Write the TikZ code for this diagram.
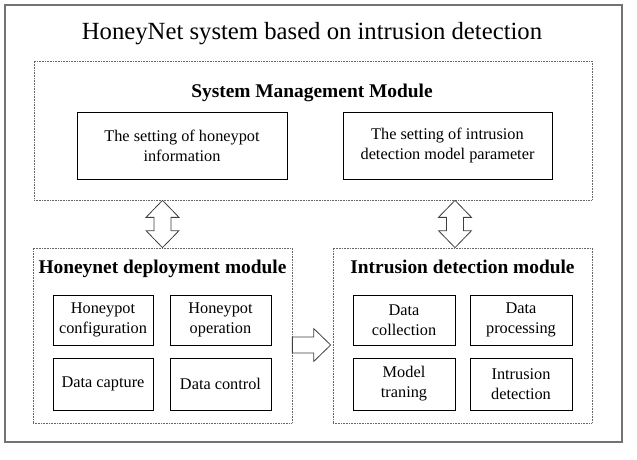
\documentclass[tikz,border=0pt]{standalone}
\usepackage{fontspec}
\setmainfont{Liberation Serif}
\usetikzlibrary{calc}

\tikzset{
  box/.style={draw=black, line width=0.8pt, align=center, inner sep=0pt,
    font=\fontsize{16.3}{20}\selectfont},
  module/.style={draw=black!60, line width=0.7pt, dash pattern=on 0.8pt off 0.8pt,
    inner sep=0pt},
  modlabel/.style={anchor=base, font=\fontsize{19.4}{22}\selectfont\bfseries},
  blockarrow/.style={draw=black!75, line width=0.8pt, fill=white},
}

\begin{document}
\begin{tikzpicture}[x=1pt,y=-1pt]
            \useasboundingbox (0,0) rectangle (637,460);
            % Moldura e titulo
            \node[draw=black!55, line width=1.5pt, inner sep=0pt, minimum width=617pt, minimum height=437pt] (frame) at (313.5,223.5) {};
            \node[anchor=base, font=\fontsize{24.7}{28}\selectfont] (title) at (312,40) {HoneyNet system based on intrusion detection};
            % Modulo de gerenciamento
            \node[module, minimum width=558pt, minimum height=139pt] (smm) at (313,130.5) {};
            \node[modlabel] (smmlabel) at (312,97) {System Management Module};
            \node[box, minimum width=210pt, minimum height=67pt] (sethp) at (182,145.5) {The setting of honeypot\\information};
            \node[box, minimum width=209pt, minimum height=67pt] (setid) at (447.5,145.5) {The setting of intrusion\\detection model parameter};
            % Modulo de implantacao da honeynet
            \node[module, minimum width=259pt, minimum height=175pt] (hd) at (162.5,335.5) {};
            \node[modlabel] (hdlabel) at (162.5,273) {Honeynet deployment module};
            \node[box, minimum width=100pt, minimum height=50pt] (hpconf) at (103,320) {Honeypot\\configuration};
            \node[box, minimum width=101pt, minimum height=50pt] (hpop) at (220.5,320) {Honeypot\\operation};
            \node[box, minimum width=100pt, minimum height=52pt] (dcap) at (103,384) {Data capture};
            \node[box, minimum width=101pt, minimum height=52pt] (dctrl) at (220.5,384) {Data control};
            % Modulo de deteccao de intrusao
            \node[module, minimum width=259pt, minimum height=175pt] (id) at (462.5,335.5) {};
            \node[modlabel] (idlabel) at (462.5,273) {Intrusion detection module};
            \node[box, minimum width=102pt, minimum height=50pt] (dcol) at (404,320) {Data\\collection};
            \node[box, minimum width=102pt, minimum height=50pt] (dproc) at (521,320) {Data\\processing};
            \node[box, minimum width=102pt, minimum height=52pt] (mtrain) at (404,384) {Model\\traning};
            \node[box, minimum width=102pt, minimum height=52pt] (idet) at (521,384) {Intrusion\\detection};
            % Setas duplas
            \coordinate (ua) at (smm.south -| hd.north);
            \coordinate (ub) at (hd.north);
            \coordinate (idx) at (455,0);
            \coordinate (va) at (smm.south -| idx);
            \coordinate (vb) at (id.north -| idx);
            \draw[blockarrow] (ua) -- ($(ua)+(16.5,17)$) -- ($(ua)+(8.5,17)$) -- ($(ub)+(8.5,-17)$) -- ($(ub)+(16.5,-17)$) -- (ub)
              -- ($(ub)+(-16.5,-17)$) -- ($(ub)+(-8.5,-17)$) -- ($(ua)+(-8.5,17)$) -- ($(ua)+(-16.5,17)$) -- cycle;
            \draw[blockarrow] (va) -- ($(va)+(16.5,17)$) -- ($(va)+(8.5,17)$) -- ($(vb)+(8.5,-17)$) -- ($(vb)+(16.5,-17)$) -- (vb)
              -- ($(vb)+(-16.5,-17)$) -- ($(vb)+(-8.5,-17)$) -- ($(va)+(-8.5,17)$) -- ($(va)+(-16.5,17)$) -- cycle;
            % Seta simples entre os modulos
            \coordinate (flow) at (0,345);
            \coordinate (fa) at (hd.east |- flow);
            \coordinate (fb) at ($(id.west |- flow)+(-2,0)$);
            \draw[blockarrow] ($(fa)+(0,-8)$) -- ($(fb)+(-17,-8)$) -- ($(fb)+(-17,-16.5)$) -- (fb)
              -- ($(fb)+(-17,16.5)$) -- ($(fb)+(-17,8)$) -- ($(fa)+(0,8)$) -- cycle;
\end{tikzpicture}
\end{document}
